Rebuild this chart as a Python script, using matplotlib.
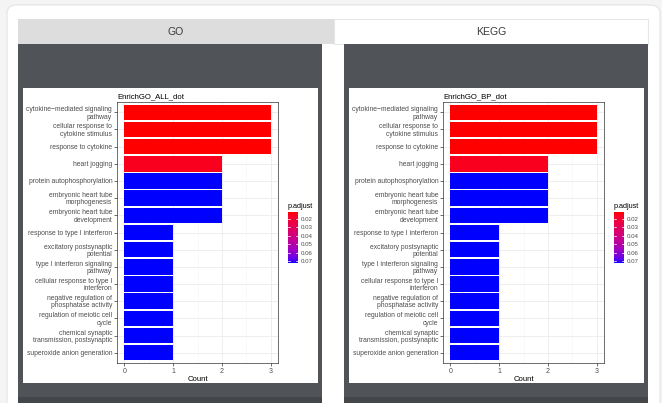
import numpy as np
import matplotlib
matplotlib.use("Agg")
import matplotlib.pyplot as plt
from matplotlib.patches import Rectangle, FancyBboxPatch
from matplotlib.colors import ListedColormap, Normalize

plt.rcParams["font.family"] = ["Liberation Sans", "DejaVu Sans"]

# ---- data -------------------------------------------------------------
terms = [
    "cytokine\u2212mediated signaling\npathway",
    "cellular response to\ncytokine stimulus",
    "response to cytokine",
    "heart jogging",
    "protein autophosphorylation",
    "embryonic heart tube\nmorphogenesis",
    "embryonic heart tube\ndevelopment",
    "response to type I interferon",
    "excitatory postsynaptic\npotential",
    "type I interferon signaling\npathway",
    "cellular response to type I\ninterferon",
    "negative regulation of\nphosphatase activity",
    "regulation of meiotic cell\ncycle",
    "chemical synaptic\ntransmission, postsynaptic",
    "superoxide anion generation",
]
counts = [3, 3, 3, 2, 2, 2, 2, 1, 1, 1, 1, 1, 1, 1, 1]
p_adjust = [0.0117, 0.0117, 0.0117, 0.0155, 0.0724, 0.0724, 0.0724,
            0.0724, 0.0724, 0.0724, 0.0724, 0.0724, 0.0724, 0.0724, 0.0724]
legend_ticks = [0.02, 0.03, 0.04, 0.05, 0.06, 0.07]
x_ticks = [0, 1, 2, 3]
tab_names = ["GO", "KEGG"]
chart_titles = ["EnrichGO_ALL_dot", "EnrichGO_BP_dot"]

# ---- red -> blue gradient interpolated in CIE Lab ---------------------
def srgb_to_lab(rgb):
    c = np.asarray(rgb, float)
    lin = np.where(c <= 0.04045, c / 12.92, ((c + 0.055) / 1.055) ** 2.4)
    M = np.array([[0.4124, 0.3576, 0.1805],
                  [0.2126, 0.7152, 0.0722],
                  [0.0193, 0.1192, 0.9505]])
    xyz = M @ lin / np.array([0.95047, 1.0, 1.08883])
    f = np.where(xyz > 0.008856, np.cbrt(xyz), 7.787 * xyz + 16 / 116)
    return np.array([116 * f[1] - 16, 500 * (f[0] - f[1]), 200 * (f[1] - f[2])])

def lab_to_srgb(lab):
    L, a, b = lab
    fy = (L + 16) / 116
    fx = fy + a / 500
    fz = fy - b / 200
    f = np.array([fx, fy, fz])
    xyz = np.where(f ** 3 > 0.008856, f ** 3, (f - 16 / 116) / 7.787)
    xyz = xyz * np.array([0.95047, 1.0, 1.08883])
    Minv = np.array([[3.2406, -1.5372, -0.4986],
                     [-0.9689, 1.8758, 0.0415],
                     [0.0557, -0.2040, 1.0570]])
    lin = np.clip(Minv @ xyz, 0, 1)
    c = np.where(lin <= 0.0031308, 12.92 * lin, 1.055 * lin ** (1 / 2.4) - 0.055)
    return np.clip(c, 0, 1)

lab_lo = srgb_to_lab([1, 0, 0])
lab_hi = srgb_to_lab([0, 0, 1])
grad = [lab_to_srgb(lab_lo + t * (lab_hi - lab_lo)) for t in np.linspace(0, 1, 256)]
cmap = ListedColormap(grad)
norm = Normalize(vmin=min(p_adjust), vmax=max(p_adjust))

# ---- figure & page chrome --------------------------------------------
W, H = 662, 403
fig = plt.figure(figsize=(W / 100, H / 100), dpi=100)
fig.patch.set_facecolor("#f4f4f4")

bg = fig.add_axes([0, 0, 1, 1])
bg.set_xlim(0, W)
bg.set_ylim(H, 0)
bg.axis("off")

bg.add_patch(FancyBboxPatch((7, 5), 653, 410, boxstyle="round,pad=0,rounding_size=9",
                            facecolor="white", edgecolor="#e4e4e4", linewidth=0.8))
# tabs
bg.add_patch(Rectangle((18, 19), 316, 25, facecolor="#dddddd", edgecolor="none"))
bg.add_patch(Rectangle((334, 19), 314, 25, facecolor="white", edgecolor="#e6e6e6",
                       linewidth=0.8))
bg.text(176, 32, tab_names[0], ha="center", va="center", fontsize=7.6, color="#3a3a3a")
bg.text(491, 32, tab_names[1], ha="center", va="center", fontsize=7.6, color="#3a3a3a")

# dark panels and chart cards
panel_x = [18, 344]
for px in panel_x:
    bg.add_patch(Rectangle((px, 44), 304, 354, facecolor="#505357", edgecolor="none"))
    bg.add_patch(Rectangle((px, 397), 304, 8, facecolor="#44474a", edgecolor="none"))
    bg.add_patch(Rectangle((px + 5, 88), 295, 295, facecolor="white", edgecolor="none"))


def fig_rect(x0, y0, x1, y1):
    return [x0 / W, 1 - y1 / H, (x1 - x0) / W, (y1 - y0) / H]


# ---- the two bar charts ----------------------------------------------
ypos = np.arange(len(terms))
bar_colors = [cmap(norm(p)) for p in p_adjust]

for i, off in enumerate([0, 326]):
    ax = fig.add_axes(fig_rect(117 + off, 102, 278 + off, 363))
    ax.barh(ypos, counts, height=0.9, color=bar_colors, edgecolor="none", zorder=3)
    ax.set_xlim(-0.15, 3.15)
    ax.set_ylim(len(terms) - 0.4, -0.6)
    ax.set_facecolor("white")
    ax.set_xticks(x_ticks)
    ax.set_xticks([0.5, 1.5, 2.5], minor=True)
    ax.set_yticks(ypos)
    ax.set_yticklabels(terms, fontsize=4.9, color="#4d4d4d", linespacing=1.05)
    ax.set_xticklabels([str(t) for t in x_ticks], fontsize=5.0, color="#4d4d4d")
    ax.grid(True, which="major", color="#ebebeb", linewidth=0.6, zorder=0)
    ax.grid(True, which="minor", axis="x", color="#f4f4f4", linewidth=0.4, zorder=0)
    ax.tick_params(axis="both", which="major", length=2, width=0.5, color="#333333", pad=1.5)
    ax.tick_params(axis="x", which="minor", length=0)
    for s in ax.spines.values():
        s.set_color("#333333")
        s.set_linewidth(0.5)
    ax.set_xlabel("Count", fontsize=5.6, color="black", labelpad=0.8)
    ax.set_title(chart_titles[i], fontsize=5.6, loc="left", pad=3, color="black")

    # p.adjust legend
    cax = fig.add_axes(fig_rect(288 + off, 212, 298 + off, 263))
    grad_img = np.linspace(norm.vmin, norm.vmax, 200).reshape(-1, 1)
    cax.imshow(grad_img, cmap=cmap, norm=norm, aspect="auto",
               extent=[0, 1, norm.vmax, norm.vmin])
    cax.set_xlim(0, 1)
    cax.set_ylim(norm.vmax, norm.vmin)
    for t in legend_ticks:
        cax.plot([0, 0.2], [t, t], color="white", linewidth=0.5)
        cax.plot([0.8, 1], [t, t], color="white", linewidth=0.5)
    cax.set_xticks([])
    cax.yaxis.tick_right()
    cax.set_yticks(legend_ticks)
    cax.set_yticklabels([f"{t:.2f}" for t in legend_ticks], fontsize=4.4, color="#4d4d4d")
    cax.tick_params(axis="y", length=0, pad=2)
    for s in cax.spines.values():
        s.set_visible(False)
    cax.text(0, 1.04, "p.adjust", transform=cax.transAxes, fontsize=5.2,
             ha="left", va="bottom", color="black")

fig.savefig("out.png", dpi=100)
